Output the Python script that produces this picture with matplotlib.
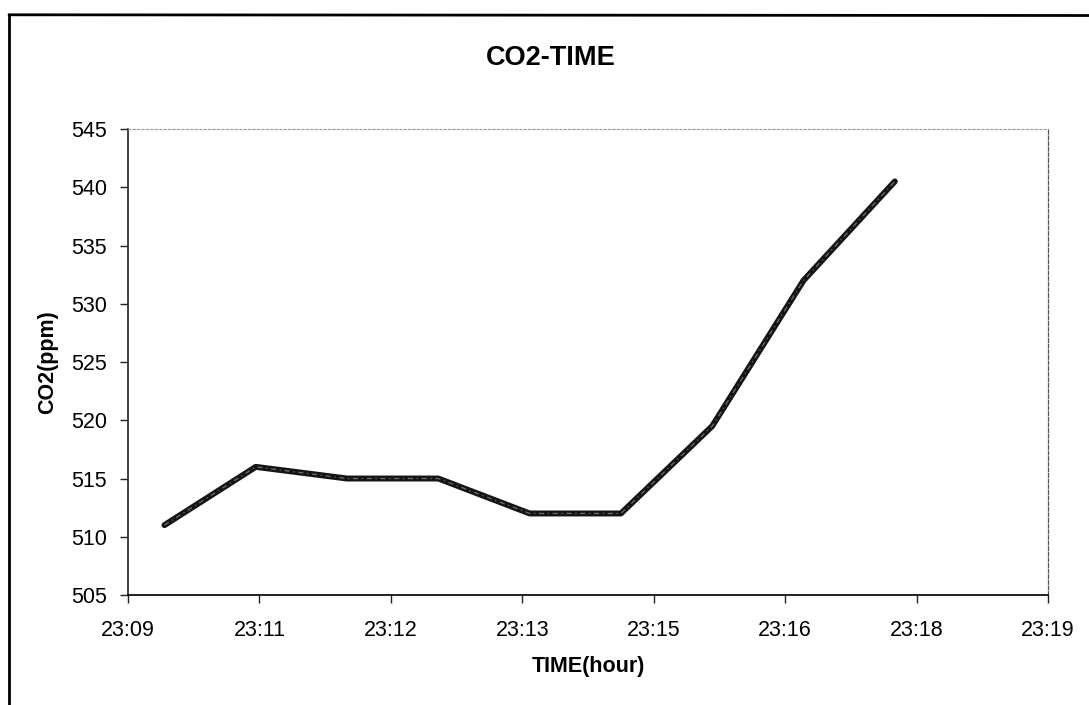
import matplotlib
import matplotlib.pyplot as plt
from matplotlib.lines import Line2D
matplotlib.use('Agg')

# data
times = ['23:10', '23:11', '23:12', '23:13', '23:14',
         '23:15', '23:16', '23:17', '23:18']
co2_ppm = [511, 516, 515, 515, 512, 512, 519.5, 532, 540.5]

# excel puts time ticks every 0.001 day starting at 0.965
x_ticks = [0.965, 0.966, 0.967, 0.968, 0.969, 0.970, 0.971, 0.972]
x_tick_labels = ['23:09', '23:11', '23:12', '23:13',
                 '23:15', '23:16', '23:18', '23:19']
y_ticks = [505, 510, 515, 520, 525, 530, 535, 540, 545]

plt.rcParams['font.family'] = ['Liberation Sans', 'DejaVu Sans']


def to_days(hhmm):
    ''' время "чч:мм" -> доля суток, как в excel '''
    h, m = hhmm.split(':')
    return (int(h) * 60 + int(m)) / 1440


def draw_chart():
    fig = plt.figure(figsize=(10.89, 7.05), dpi=100)
    ax = fig.add_axes([0.1175, 0.156, 0.845, 0.661])

    x = [to_days(t) for t in times]
    ax.plot(x, co2_ppm, color='#151515', lw=4.3,
            solid_capstyle='round', solid_joinstyle='round', zorder=3)
    ax.plot(x, co2_ppm, color='#6e6e6e', lw=0.9,
            linestyle=(0, (4, 3, 1, 3)), zorder=4)

    ax.set_xlim(0.965, 0.972)
    ax.set_ylim(505, 545)
    ax.set_xticks(x_ticks)
    ax.set_xticklabels(x_tick_labels)
    ax.set_yticks(y_ticks)
    ax.tick_params(axis='both', direction='out', labelsize=15.5,
                   length=6, width=1, color='#222222')
    ax.tick_params(axis='x', pad=12)
    ax.tick_params(axis='y', pad=9)

    # plot area frame like excel: solid left/bottom, dotted top/right
    ax.spines['left'].set_color('#333333')
    ax.spines['left'].set_linewidth(1.3)
    ax.spines['bottom'].set_color('#111111')
    ax.spines['bottom'].set_linewidth(1.3)
    ax.spines['top'].set_color('#9a9a9a')
    ax.spines['top'].set_linewidth(0.8)
    ax.spines['top'].set_linestyle((0, (2, 2)))
    ax.spines['right'].set_color('#555555')
    ax.spines['right'].set_linewidth(0.9)
    ax.spines['right'].set_linestyle((0, (3, 1.5)))

    fig.text(0.506, 0.918, 'CO2-TIME', ha='center', va='center',
             fontsize=19.5, fontweight='bold')
    ax.set_xlabel('TIME(hour)', fontsize=15.5, fontweight='bold',
                  labelpad=11)
    ax.set_ylabel('CO2(ppm)', fontsize=15.5, fontweight='bold',
                  labelpad=9)

    # outer chart border (left and top visible in the scan)
    fig.add_artist(Line2D([0.0085, 0.0085], [0.0, 0.979],
                          color='black', lw=2))
    fig.add_artist(Line2D([0.0085, 1.0], [0.979, 0.978],
                          color='black', lw=2))

    fig.savefig('out.png', dpi=100)


draw_chart()
